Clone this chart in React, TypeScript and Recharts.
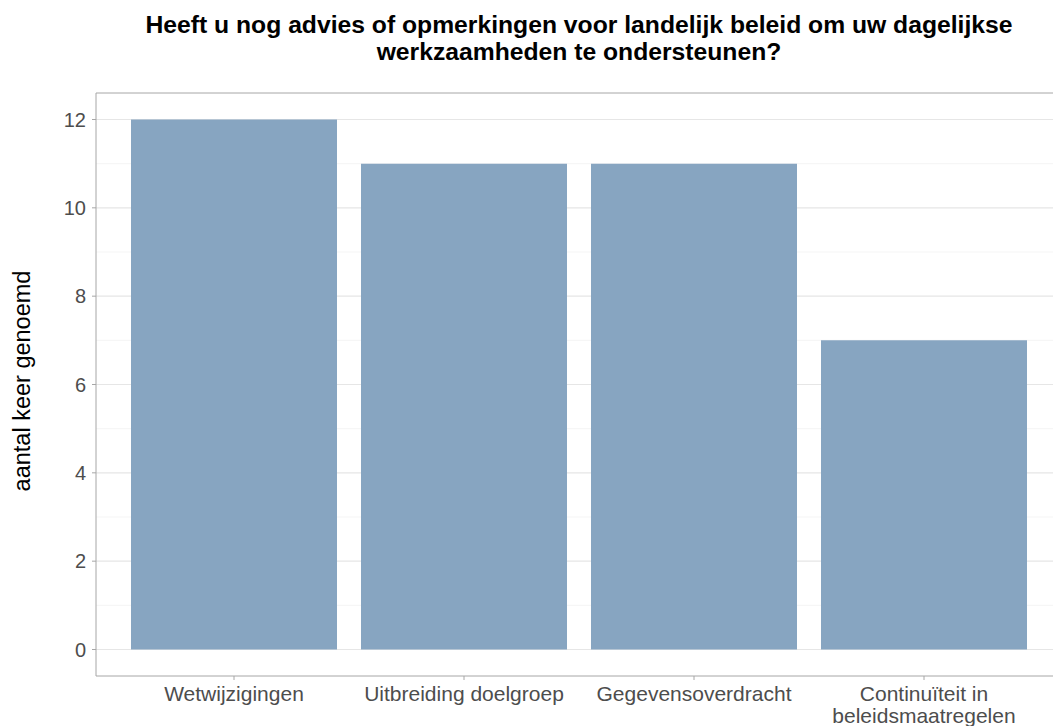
import React from "react";
import { Bar, BarChart, CartesianGrid, ReferenceLine, XAxis, YAxis } from "recharts";

const categories = [
  "Wetwijzigingen",
  "Uitbreiding doelgroep",
  "Gegevensoverdracht",
  "Continuïteit in\nbeleidsmaatregelen",
];
const counts = [12, 11, 11, 7];
const yTicks = [0, 2, 4, 6, 8, 10, 12];
const yMinor = [1, 3, 5, 7, 9, 11];

const title = [
  "Heeft u nog advies of opmerkingen voor landelijk beleid om uw dagelijkse",
  "werkzaamheden te ondersteunen?",
];
const yLabel = "aantal keer genoemd";

const data = categories.map((name, i) => ({ name, count: counts[i] }));

const FONT = "'Liberation Sans', Arial, Helvetica, sans-serif";

function CategoryTick(props: any) {
  const { x, y, payload } = props;
  const lines = String(payload.value).split("\n");
  return (
    <text x={x} y={y} textAnchor="middle" fill="#4d4d4d" fontSize={21} fontFamily={FONT}>
      {lines.map((line, i) => (
        <tspan key={i} x={x} dy={i === 0 ? 19 : 22}>
          {line}
        </tspan>
      ))}
    </text>
  );
}

export default function App() {
  return (
    <div
      style={{
        position: "absolute",
        left: 0,
        top: 0,
        width: 1053,
        height: 726,
        overflow: "hidden",
        background: "#fff",
      }}
    >
      <BarChart
        width={1070}
        height={726}
        data={data}
        margin={{ top: 93, right: 8, bottom: 0, left: 0 }}
      >
        <CartesianGrid vertical={false} horizontalValues={yMinor} stroke="#f1f1f1" strokeWidth={0.7} />
        <CartesianGrid vertical={false} horizontalValues={yTicks} stroke="#e6e6e6" strokeWidth={1.2} />
        <XAxis
          dataKey="name"
          height={50}
          padding={{ left: 23, right: 23 }}
          tick={<CategoryTick />}
          tickSize={4}
          tickMargin={2}
          axisLine={{ stroke: "#a6a6a6" }}
          tickLine={{ stroke: "#a6a6a6" }}
          interval={0}
        />
        <YAxis
          width={96}
          type="number"
          domain={[-0.6, 12.6]}
          ticks={yTicks}
          allowDataOverflow
          tickSize={4}
          tickMargin={6}
          axisLine={{ stroke: "#a6a6a6" }}
          tickLine={{ stroke: "#a6a6a6" }}
          tick={{ fill: "#4d4d4d", fontSize: 20, fontFamily: FONT }}
        />
        <ReferenceLine y={12.6} stroke="#a6a6a6" />
        <Bar dataKey="count" fill="#87a5c1" barSize={206} isAnimationActive={false} />
      </BarChart>
      <svg
        width={1053}
        height={726}
        style={{ position: "absolute", left: 0, top: 0, pointerEvents: "none" }}
      >
        <text
          x={579}
          y={33}
          textAnchor="middle"
          fontFamily={FONT}
          fontWeight="bold"
          fontSize={24.7}
          fill="#000"
        >
          <tspan x={579}>{title[0]}</tspan>
          <tspan x={579} dy={27}>
            {title[1]}
          </tspan>
        </text>
        <text
          transform="translate(22,381) rotate(-90)"
          textAnchor="middle"
          dy="0.35em"
          fontFamily={FONT}
          fontSize={23.5}
          fill="#000"
        >
          {yLabel}
        </text>
      </svg>
    </div>
  );
}
